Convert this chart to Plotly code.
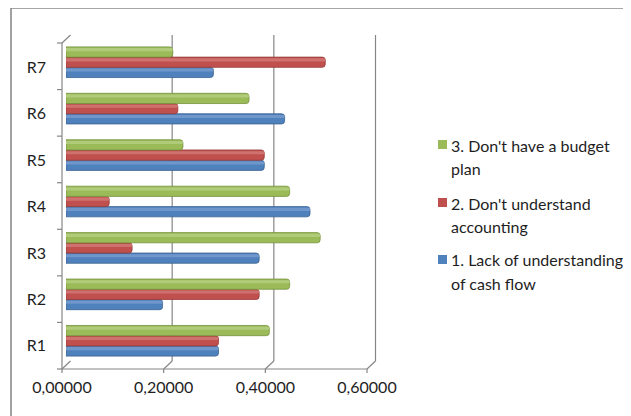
import plotly.graph_objects as go

categories = ["R1", "R2", "R3", "R4", "R5", "R6", "R7"]
series_lines = [
    ["1. Lack of understanding", "of cash flow"],
    ["2. Don't understand", "accounting"],
    ["3. Don't have a budget", "plan"],
]
s1_cash_flow = [0.30, 0.19, 0.38, 0.48, 0.39, 0.43, 0.29]
s2_accounting = [0.30, 0.38, 0.13, 0.085, 0.39, 0.22, 0.51]
s3_budget = [0.40, 0.44, 0.50, 0.44, 0.23, 0.36, 0.21]
x_ticks = [0.0, 0.2, 0.4, 0.6]
X_MAX = 0.6

colors = ["#4F81BD", "#C0504D", "#9BBB59"]
lights = ["#6F97CC", "#CE716F", "#B0CC7A"]
edges = ["#3A6290", "#953B39", "#76923C"]
GRID = "#868686"
FONT = "Lato"
TXT = "#1e1e1e"
FS = 16

# page has an 8px body margin: figure is placed at (8, 8)
OFF = 8
W, H = 631 - OFF, 416 - OFF
ML, MR, MT, MB = 58, 260, 31, 52
PW, PH = W - ML - MR, H - MT - MB      # plot area size in px
SX0, SY0 = OFF + ML, OFF + MT          # plot area top-left on screen
SY1 = SY0 + PH                         # plot area bottom on screen


def px_x(sx):  # screen x -> paper x
    return (sx - SX0) / PW


def px_y(sy):  # screen y -> paper y
    return (SY1 - sy) / PH


def vx(v, dpx=0.0):  # value + pixel offset -> paper x
    return v / X_MAX + dpx / PW


BAR_W = 0.22
offsets = [-0.33, -0.11, 0.11]

fig = go.Figure()
for lines, vals, c, lc, e, off in zip(series_lines, [s1_cash_flow, s2_accounting, s3_budget],
                                      colors, lights, edges, offsets):
    fig.add_trace(go.Bar(
        y=categories, x=vals, name=" ".join(lines), orientation="h",
        width=BAR_W, offset=off,
        marker=dict(color=c, line=dict(color=e, width=0.8), cornerradius=3),
        showlegend=False,
    ))
    # highlight stripe to give the cylinder look
    fig.add_trace(go.Bar(
        y=categories, x=vals, orientation="h",
        width=BAR_W * 0.3, offset=off + BAR_W * 0.58,
        marker=dict(color=lc, line=dict(width=0), cornerradius=2),
        showlegend=False, hoverinfo="skip",
    ))

fig.update_layout(
    width=W, height=H,
    margin=dict(l=ML, r=MR, t=MT, b=MB),
    paper_bgcolor="white", plot_bgcolor="white",
    barmode="overlay",
    separators=",.",
    font=dict(family=FONT, size=FS, color=TXT),
    xaxis=dict(
        range=[0, X_MAX], tickvals=x_ticks, tickformat=".5f",
        showgrid=False, showline=False, zeroline=False, ticks="",
        ticklabelshift=-4, ticklabelstandoff=12,
        tickfont=dict(family=FONT, size=FS, color=TXT),
    ),
    yaxis=dict(
        showline=False, showgrid=False, zeroline=False, ticks="",
        ticklabelshift=5, ticklabelstandoff=19,
        tickfont=dict(family=FONT, size=FS, color=TXT),
    ),
)

line = dict(color=GRID, width=1.2)
BX, BYT, BYB = 4.5, 4, 3      # back wall offsets (px right, px above top, px above bottom)
FX, FYB, FYT = -4, -5, -4     # front axis offsets


def seg(x0, y0, x1, y1, layer="below"):
    fig.add_shape(type="line", xref="paper", yref="paper",
                  x0=x0, y0=y0, x1=x1, y1=y1, line=line, layer=layer)


# back wall gridlines
for v in x_ticks[1:]:
    seg(vx(v, BX), BYB / PH, vx(v, BX), 1 + BYT / PH)
# floor diagonals
for v in x_ticks:
    seg(vx(v, BX), BYB / PH, vx(v, FX), FYB / PH)
# front value axis with ticks
seg(vx(0, FX), FYB / PH, vx(X_MAX, FX), FYB / PH)
for v in x_ticks:
    seg(vx(v, FX), FYB / PH, vx(v, FX), (FYB - 4) / PH)
# front category axis
top_f = 1 + FYT / PH
seg(vx(0, FX), FYB / PH, vx(0, FX), top_f)
seg(vx(0, FX), top_f, vx(0, BX), 1 + BYT / PH)
n = len(categories)
for k in range(n + 1):
    yk = FYB / PH + k * (top_f - FYB / PH) / n
    seg(vx(0, FX - 5), yk, vx(0, FX), yk)

# chart-area border (left and top edges visible)
border = dict(color="#8a8a8a", width=1.6)
fig.add_shape(type="line", xref="paper", yref="paper",
              x0=px_x(11), x1=px_x(11), y0=px_y(420), y1=px_y(8), line=border)
fig.add_shape(type="line", xref="paper", yref="paper",
              x0=px_x(11), x1=px_x(640), y0=px_y(8), y1=px_y(8), line=border)

# legend (series 3 on top)
leg_rows = [(145, 168), (203, 226), (260, 283)]
for (y1, y2), lines, c in zip(leg_rows, series_lines[::-1], colors[::-1]):
    fig.add_shape(type="rect", xref="paper", yref="paper",
                  x0=px_x(438), x1=px_x(447), y0=px_y(y1 - 5), y1=px_y(y1 + 4),
                  fillcolor=c, line=dict(width=0))
    for yy, t in zip((y1, y2), lines):
        fig.add_annotation(text=t, xref="paper", yref="paper",
                           x=px_x(451), y=px_y(yy), xanchor="left", yanchor="middle",
                           showarrow=False, xshift=-2,
                           font=dict(family=FONT, size=FS, color=TXT))

fig.write_html("out.html")
